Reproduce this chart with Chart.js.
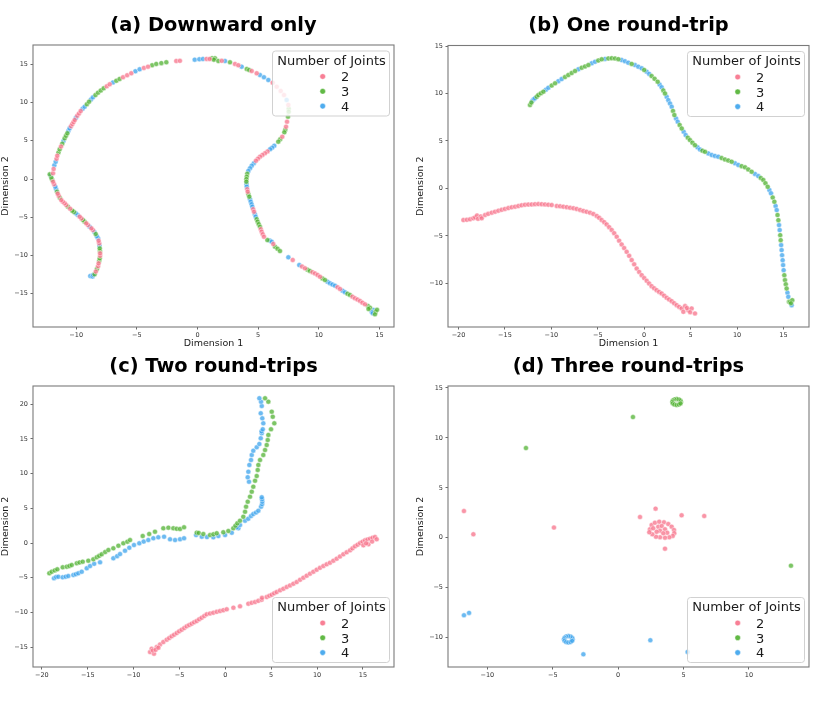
<!DOCTYPE html>
<html>
<head>
<meta charset="utf-8">
<script src="https://cdn.jsdelivr.net/npm/chart.js@4.4.1/dist/chart.umd.min.js"></script>
<style>
  html, body { margin: 0; padding: 0; background: #fff; }
  #wrap { position: relative; width: 830px; height: 714px; }
  .panel { position: absolute; width: 415px; height: 357px; }
</style>
</head>
<body>
<div id="wrap">
  <div class="panel" style="left:0;top:0"><canvas id="cA" width="415" height="357"></canvas></div>
  <div class="panel" style="left:415px;top:0"><canvas id="cB" width="415" height="357"></canvas></div>
  <div class="panel" style="left:0;top:357px"><canvas id="cC" width="415" height="357"></canvas></div>
  <div class="panel" style="left:415px;top:357px"><canvas id="cD" width="415" height="357"></canvas></div>
</div>
<script>
// ---------------- DATA ----------------
const seriesLabels = ['2', '3', '4'];
const legendTitle = 'Number of Joints';
const panelTitles = ['(a) Downward only', '(b) One round-trip', '(c) Two round-trips', '(d) Three round-trips'];

// (a) Downward only
const down2 = [[-8.38,-12.1],[-8.2,-11.4],[-8.15,-11.03],[-8.03,-10.05],[-8.03,-9.72],[-8.1,-8.41],[-8.15,-8.08],[-8.62,-6.67],[-8.75,-6.45],[-9.03,-6.02],[-9.17,-5.8],[-9.57,-5.15],[-9.71,-4.93],[-10.5,-3.88],[-10.82,-3.4],[-10.95,-3.18],[-11.1,-2.96],[-11.23,-2.75],[-11.44,-2.18],[-11.52,-1.92],[-11.82,-0.67],[-11.91,-0.35],[-11.91,0.74],[-11.86,1.31],[-11.62,2.65],[-11.56,3.05],[-11.25,4.25],[-10.43,6.91],[-10.32,7.19],[-10.22,7.45],[-10.12,7.72],[-9.91,8.28],[-9.77,8.58],[-9.63,8.89],[-7.48,12.12],[-7.24,12.38],[-6.14,13.3],[-5.8,13.56],[-5.46,13.82],[-4.42,14.52],[-4.08,14.69],[-1.75,15.43],[-1.45,15.45],[0.75,15.7],[1.0,15.69],[2.0,15.45],[3.09,15.04],[3.37,14.87],[4.47,14.12],[4.88,13.82],[6.2,12.59],[6.53,12.07],[6.86,11.51],[7.13,10.98],[7.49,9.68],[7.38,7.49],[7.3,6.84],[6.99,5.53],[5.77,3.6],[5.56,3.36],[5.35,3.14],[5.15,2.92],[4.98,2.65],[4.82,2.39],[4.1,-1.33],[4.14,-1.66],[4.59,-3.95],[4.66,-4.28],[5.22,-6.56],[5.29,-6.89],[5.38,-7.22],[5.48,-7.55],[6.25,-8.5],[7.85,-10.59],[8.62,-11.45],[8.86,-11.68],[9.48,-12.18],[9.69,-12.34],[9.9,-12.55],[10.1,-12.78],[11.55,-14.16],[11.75,-14.38],[12.78,-15.38],[12.98,-15.6],[13.19,-15.77],[13.4,-15.95],[13.6,-16.17],[13.81,-16.39]];
const down3 = [[-8.48,-12.46],[-8.29,-11.77],[-8.1,-10.7],[-8.06,-10.37],[-8.04,-9.4],[-8.06,-9.07],[-8.39,-7.19],[-9.3,-5.58],[-9.44,-5.36],[-10.18,-4.32],[-10.32,-4.14],[-10.68,-3.62],[-11.35,-2.45],[-11.58,-1.66],[-11.98,-0.1],[-12.05,0.17],[-12.18,0.61],[-11.46,3.46],[-11.36,3.88],[-11.15,4.62],[-10.95,5.32],[-10.84,5.65],[-10.73,5.98],[-9.12,9.78],[-8.94,10.11],[-8.41,10.98],[-8.2,11.29],[-7.97,11.57],[-7.73,11.86],[-6.69,12.85],[-6.42,13.08],[-3.74,14.87],[-3.4,15.04],[-2.98,15.15],[-2.57,15.26],[1.2,15.8],[1.44,15.78],[1.35,15.6],[1.72,15.43],[2.68,15.26],[4.06,14.38],[4.26,14.25],[7.52,9.2],[7.52,8.8],[7.46,8.15],[7.24,6.45],[7.16,6.1],[6.82,5.2],[6.66,4.88],[4.1,0.68],[4.06,0.3],[4.03,-0.02],[4.03,-0.35],[4.2,-1.98],[4.27,-2.31],[4.88,-5.25],[4.96,-5.58],[5.05,-5.9],[5.15,-6.24],[5.76,-7.98],[6.39,-8.85],[6.6,-9.13],[6.8,-9.42],[9.07,-11.85],[9.27,-12.03],[10.3,-13.0],[10.51,-13.21],[12.37,-15.0],[12.57,-15.17],[14.05,-16.6],[14.22,-16.83],[14.69,-17.35],[14.63,-17.69],[14.8,-17.1],[14.1,-17.0]];
const down4 = [[-8.84,-12.68],[-8.65,-12.75],[-8.6,-12.55],[-8.08,-8.74],[-8.2,-7.76],[-8.3,-7.47],[-8.5,-6.93],[-8.89,-6.23],[-9.87,-4.71],[-10.04,-4.49],[-11.65,-1.33],[-11.72,-1.0],[-12.1,0.45],[-11.8,1.8],[-11.69,2.26],[-11.05,4.97],[-10.64,6.3],[-10.54,6.63],[-10.02,8.0],[-9.47,9.17],[-9.3,9.46],[-8.78,10.4],[-8.62,10.68],[-6.97,12.62],[-5.12,14.08],[-4.77,14.34],[-0.23,15.6],[0.15,15.65],[0.45,15.69],[2.27,15.43],[3.64,14.69],[5.15,13.6],[5.48,13.3],[5.84,12.95],[7.35,10.33],[6.33,4.35],[6.15,4.1],[5.98,3.88],[4.65,2.07],[4.47,1.74],[4.33,1.4],[4.19,1.05],[4.04,-0.68],[4.06,-1.0],[4.33,-2.64],[4.39,-2.97],[4.46,-3.3],[4.52,-3.62],[4.73,-4.6],[4.8,-4.93],[5.95,-8.05],[6.12,-8.2],[7.49,-10.24],[8.39,-11.25],[10.72,-13.43],[10.92,-13.64],[11.13,-13.8],[11.34,-13.95],[11.96,-14.6],[12.16,-14.82],[14.5,-17.13],[14.36,-17.35],[14.45,-17.55]];

// (b) One round-trip
const one2 = [[-19.47,-3.33],[-19.1,-3.3],[-18.75,-3.26],[-18.4,-3.15],[-18.2,-3.05],[-18.0,-2.85],[-17.9,-3.2],[-17.6,-2.95],[-17.5,-3.15],[-17.14,-2.8],[-16.8,-2.68],[-16.42,-2.55],[-16.06,-2.45],[-15.7,-2.34],[-15.35,-2.25],[-15.0,-2.16],[-14.63,-2.07],[-14.27,-1.99],[-13.9,-1.92],[-13.55,-1.85],[-13.2,-1.78],[-12.84,-1.72],[-12.48,-1.7],[-12.12,-1.68],[-11.76,-1.66],[-11.4,-1.65],[-11.04,-1.66],[-10.68,-1.68],[-10.32,-1.71],[-9.96,-1.75],[-9.42,-1.85],[-9.06,-1.88],[-8.7,-1.92],[-8.34,-1.97],[-7.98,-2.03],[-7.62,-2.09],[-7.27,-2.16],[-6.9,-2.26],[-6.55,-2.37],[-6.2,-2.46],[-5.83,-2.55],[-5.47,-2.7],[-5.11,-2.9],[-4.85,-3.1],[-4.58,-3.33],[-4.3,-3.55],[-4.04,-3.79],[-3.77,-4.08],[-3.5,-4.38],[-3.23,-4.72],[-2.96,-5.09],[-2.7,-5.5],[-2.43,-5.9],[-2.16,-6.28],[-1.89,-6.68],[-1.62,-7.1],[-1.35,-7.55],[-1.08,-8.0],[-0.81,-8.44],[-0.54,-8.8],[-0.27,-9.14],[0.0,-9.45],[0.27,-9.74],[0.53,-10.02],[0.8,-10.3],[1.07,-10.52],[1.34,-10.72],[1.61,-10.9],[1.88,-11.07],[2.15,-11.3],[2.42,-11.53],[2.69,-11.7],[2.96,-11.88],[3.23,-12.1],[3.5,-12.3],[3.77,-12.48],[4.04,-12.65],[4.4,-12.4],[4.22,-13.0],[4.75,-12.83],[4.6,-12.6],[5.11,-12.65],[4.95,-13.05],[5.47,-13.17]];
const one3 = [[-12.3,8.79],[-12.15,9.05],[-11.58,9.67],[-11.4,9.84],[-11.13,10.02],[-10.86,10.2],[-9.96,10.84],[-9.6,11.07],[-8.53,11.74],[-8.17,11.95],[-7.81,12.16],[-7.45,12.37],[-6.73,12.72],[-6.37,12.86],[-6.01,13.0],[-4.94,13.48],[-4.58,13.6],[-3.86,13.7],[-3.5,13.72],[-3.14,13.7],[-2.78,13.62],[-1.35,13.12],[0.0,12.48],[0.8,11.84],[1.12,11.55],[1.45,11.25],[2.06,10.33],[2.24,10.01],[3.1,8.17],[3.25,7.73],[3.82,6.68],[4.04,6.32],[4.7,5.35],[4.93,5.09],[5.2,4.82],[5.47,4.56],[6.28,3.98],[6.55,3.86],[8.34,3.2],[8.7,3.06],[9.06,2.94],[9.42,2.82],[10.5,2.35],[10.86,2.22],[11.21,2.0],[11.57,1.76],[12.56,1.1],[12.83,0.89],[13.06,0.54],[13.3,0.18],[13.84,-0.96],[14.02,-1.4],[14.36,-2.8],[14.45,-3.34],[14.65,-4.92],[14.7,-5.45],[15.09,-9.14],[15.16,-9.66],[15.25,-10.1],[15.34,-10.54],[15.59,-11.95],[15.7,-11.95],[15.95,-11.77],[15.8,-12.1]];
const one4 = [[-12.04,9.25],[-11.9,9.4],[-11.76,9.5],[-10.59,10.4],[-10.32,10.61],[-9.25,11.3],[-8.89,11.52],[-7.09,12.55],[-5.65,13.18],[-5.29,13.35],[-4.22,13.65],[-2.43,13.53],[-2.07,13.4],[-1.71,13.25],[-0.99,13.0],[-0.63,12.83],[-0.27,12.65],[0.27,12.3],[0.54,12.07],[1.66,10.95],[1.88,10.65],[2.42,9.65],[2.6,9.3],[2.78,8.95],[2.96,8.6],[3.43,7.38],[3.61,7.03],[4.25,5.97],[4.47,5.62],[5.74,4.33],[6.01,4.1],[6.91,3.69],[7.27,3.52],[7.62,3.43],[7.98,3.34],[9.78,2.65],[10.14,2.47],[11.93,1.53],[12.29,1.3],[13.48,-0.17],[13.66,-0.52],[14.15,-1.84],[14.27,-2.28],[14.52,-3.86],[14.59,-4.39],[14.75,-5.97],[14.8,-6.5],[14.85,-7.03],[14.91,-7.56],[14.96,-8.08],[15.02,-8.61],[15.43,-10.98],[15.52,-11.42],[15.88,-12.3]];

// (c) Two round-trips
const two2 = [[-8.21,-15.72],[-8.03,-15.24],[-7.78,-15.96],[-7.9,-15.5],[-7.48,-15.0],[-7.6,-15.4],[-7.12,-14.62],[-7.3,-15.1],[-6.76,-14.28],[-6.39,-13.94],[-6.12,-13.7],[-5.85,-13.46],[-5.58,-13.22],[-5.3,-12.98],[-5.03,-12.74],[-4.76,-12.5],[-4.48,-12.26],[-4.21,-12.02],[-3.94,-11.82],[-3.67,-11.63],[-3.4,-11.44],[-3.12,-11.25],[-2.85,-11.0],[-2.58,-10.77],[-2.3,-10.53],[-2.03,-10.29],[-1.67,-10.17],[-1.31,-10.05],[-0.94,-9.93],[-0.58,-9.81],[-0.22,-9.69],[0.15,-9.57],[0.88,-9.33],[1.6,-9.13],[2.51,-8.75],[2.87,-8.63],[3.24,-8.51],[3.6,-8.34],[3.96,-8.17],[4.0,-7.9],[4.51,-7.79],[4.8,-7.6],[5.06,-7.45],[5.33,-7.26],[5.6,-7.07],[5.97,-6.83],[6.33,-6.59],[6.69,-6.35],[7.05,-6.11],[7.42,-5.87],[7.78,-5.63],[8.15,-5.3],[8.51,-5.0],[8.87,-4.71],[9.23,-4.42],[9.6,-4.14],[9.96,-3.85],[10.32,-3.58],[10.69,-3.32],[11.05,-3.08],[11.41,-2.84],[11.78,-2.55],[12.14,-2.26],[12.5,-1.95],[12.87,-1.63],[13.23,-1.35],[13.6,-1.06],[13.87,-0.77],[14.14,-0.48],[14.42,-0.24],[14.69,0.0],[14.96,0.19],[15.23,0.38],[15.5,0.5],[15.78,0.63],[16.05,0.75],[16.32,0.87],[16.5,0.53],[15.6,-0.19],[15.05,-0.34],[16.0,0.2],[15.35,-0.05]];
const two3 = [[-19.19,-4.37],[-18.93,-4.14],[-18.6,-3.95],[-18.32,-3.8],[-17.73,-3.51],[-17.29,-3.41],[-17.0,-3.3],[-16.75,-3.17],[-16.2,-2.93],[-15.9,-2.8],[-15.55,-2.69],[-14.94,-2.55],[-14.39,-2.36],[-14.02,-2.06],[-13.75,-1.85],[-13.48,-1.63],[-13.1,-1.3],[-12.75,-1.01],[-12.21,-0.77],[-11.66,-0.39],[-11.12,-0.05],[-10.68,0.19],[-10.39,0.43],[-9.01,1.01],[-8.3,1.3],[-7.67,1.63],[-6.76,2.12],[-6.21,2.21],[-5.67,2.12],[-5.3,2.05],[-4.94,2.02],[-4.5,2.26],[-3.12,1.49],[-2.9,1.45],[-2.4,1.3],[-1.67,1.15],[-1.3,1.25],[-0.94,1.4],[-0.22,1.54],[0.33,1.73],[0.87,2.12],[1.1,2.5],[1.31,2.84],[1.6,3.22],[1.96,3.79],[2.15,4.51],[2.26,5.24],[2.44,5.96],[2.69,6.68],[2.88,7.4],[3.05,8.12],[3.24,8.98],[3.42,9.66],[3.53,10.53],[3.6,11.25],[3.78,11.97],[4.14,12.69],[4.33,13.41],[4.51,14.13],[4.62,14.85],[4.69,15.58],[4.98,16.4],[5.34,17.26],[5.17,18.21],[5.06,18.94],[4.69,20.38],[4.33,20.87]];
const two4 = [[-18.68,-5.09],[-18.45,-4.9],[-18.21,-4.86],[-17.73,-4.95],[-17.4,-4.85],[-17.12,-4.76],[-16.57,-4.61],[-16.3,-4.5],[-16.03,-4.37],[-15.66,-4.14],[-15.11,-3.65],[-14.75,-3.32],[-14.3,-3.0],[-13.66,-2.79],[-12.21,-2.21],[-11.8,-1.9],[-11.48,-1.59],[-10.94,-1.11],[-10.47,-0.68],[-9.96,-0.29],[-9.38,-0.05],[-8.9,0.2],[-8.4,0.43],[-7.85,0.68],[-7.31,0.82],[-6.68,0.91],[-6.03,0.53],[-5.48,0.43],[-4.94,0.53],[-4.5,0.68],[-3.19,1.15],[-2.57,0.91],[-2.0,0.85],[-1.31,0.82],[-0.76,1.01],[-0.03,1.15],[0.7,1.49],[1.42,2.12],[1.24,2.26],[1.6,2.6],[2.15,3.22],[2.5,3.5],[2.8,3.89],[3.05,4.18],[3.35,4.4],[3.6,4.66],[3.89,5.24],[4.0,5.6],[4.03,5.96],[4.0,6.3],[3.97,6.59],[2.58,8.84],[2.44,9.48],[2.51,10.28],[2.62,11.25],[2.8,11.97],[2.88,12.69],[3.05,13.31],[3.42,13.8],[3.71,14.28],[3.86,15.1],[3.97,15.82],[3.95,16.1],[4.08,16.4],[4.14,17.26],[4.03,17.98],[3.86,18.7],[3.97,19.76],[3.89,20.38],[3.71,20.87]];

// (d) Three round-trips
const three2 = [[-11.79,2.68],[-11.07,0.35],[-4.91,1.02],[1.67,2.08],[2.86,2.92],[4.85,2.25],[6.58,2.18],[3.58,-1.09],[2.43,0.85],[2.56,1.28],[2.81,1.51],[3.14,1.61],[3.5,1.55],[3.83,1.38],[4.09,1.11],[4.27,0.78],[4.29,0.45],[4.17,0.18],[3.91,0.05],[3.58,0.01],[3.2,0.05],[2.89,0.11],[2.61,0.35],[2.38,0.55],[3.07,1.11],[3.33,1.18],[3.2,0.71],[3.58,0.85],[3.75,0.51],[3.45,0.45],[2.94,0.61],[2.68,0.95]];
const three3 = [[1.13,12.09],[-7.05,8.99],[13.21,-2.79],[4.8,13.6],[4.76,13.75],[4.64,13.86],[4.47,13.9],[4.3,13.86],[4.18,13.75],[4.14,13.6],[4.18,13.45],[4.3,13.34],[4.47,13.3],[4.64,13.34],[4.76,13.45]];
const three4 = [[-11.79,-7.76],[-11.4,-7.52],[2.46,-10.26],[-2.66,-11.67],[5.31,-11.43],[-3.48,-10.16],[-3.52,-10.0],[-3.64,-9.88],[-3.81,-9.84],[-3.98,-9.88],[-4.1,-10.0],[-4.14,-10.16],[-4.1,-10.32],[-3.98,-10.44],[-3.81,-10.48],[-3.64,-10.44],[-3.52,-10.32]];

// tick values
const ticksAX = [-10, -5, 0, 5, 10, 15];
const ticksAY = [-15, -10, -5, 0, 5, 10, 15];
const ticksBX = [-20, -15, -10, -5, 0, 5, 10, 15];
const ticksBY = [-10, -5, 0, 5, 10, 15];
const ticksCX = [-20, -15, -10, -5, 0, 5, 10, 15];
const ticksCY = [-15, -10, -5, 0, 5, 10, 15, 20];
const ticksDX = [-10, -5, 0, 5, 10];
const ticksDY = [-10, -5, 0, 5, 10, 15];

// ---------------- STYLE / RENDER ----------------
const COLORS = [[247,113,137],[80,177,49],[59,163,236]];
const rgba = (c, a) => `rgba(${c[0]},${c[1]},${c[2]},${a})`;
const FONT = '"DejaVu Sans", "Liberation Sans", sans-serif';
const fmt = v => (v < 0 ? '\u2212' + Math.abs(v) : String(v));

const decorPlugin = {
  id: 'decor',
  afterDatasetsDraw(chart) {
    const o = chart.options.plugins.decor;
    const {ctx, chartArea: ca} = chart;
    ctx.save();
    // frame (all four spines)
    ctx.strokeStyle = '#7a7a7a';
    ctx.lineWidth = 1.1;
    ctx.strokeRect(ca.left, ca.top, ca.right - ca.left, ca.bottom - ca.top);
    // legend
    const bw = 117, bh = 65;
    const bx = ca.right - 5 - bw;
    const by = o.legend === 'top' ? ca.top + 5.5 : ca.bottom - 5 - bh;
    ctx.beginPath();
    ctx.roundRect(bx + 0.5, by + 0.5, bw, bh, 3);
    ctx.fillStyle = 'rgba(255,255,255,0.8)';
    ctx.fill();
    ctx.strokeStyle = 'rgba(204,204,204,0.9)';
    ctx.lineWidth = 1;
    ctx.stroke();
    ctx.fillStyle = '#1a1a1a';
    ctx.font = `13px ${FONT}`;
    ctx.textAlign = 'center';
    ctx.textBaseline = 'alphabetic';
    ctx.fillText(legendTitle, bx + bw / 2 + 1, by + 14);
    chart.data.datasets.forEach((ds, i) => {
      const yy = by + 26 + i * 14.8;
      ctx.beginPath();
      ctx.arc(bx + 50.7, yy, 2.8, 0, Math.PI * 2);
      ctx.fillStyle = rgba(COLORS[i], 0.9);
      ctx.fill();
      ctx.strokeStyle = 'rgba(255,255,255,0.9)';
      ctx.lineWidth = 0.5;
      ctx.stroke();
      ctx.fillStyle = '#1a1a1a';
      ctx.textAlign = 'left';
      ctx.fillText(ds.label, bx + 69, yy + 4.7);
    });
    // panel title
    ctx.fillStyle = '#000';
    ctx.font = `bold 19.4px ${FONT}`;
    ctx.textAlign = 'center';
    ctx.textBaseline = 'middle';
    ctx.fillText(o.title, (ca.left + ca.right) / 2, ca.top - 19.5);
    ctx.restore();
  }
};

function axis(min, max, ticks, title, isX, size) {
  return {
    type: 'linear',
    min, max,
    afterBuildTicks: s => { s.ticks = ticks.map(v => ({value: v})); },
    afterFit: s => { if (isX) s.height = size; else s.width = size; },
    grid: { display: true, drawOnChartArea: false, drawTicks: true, tickLength: 2.5,
            tickColor: '#444', lineWidth: 0.8 },
    border: { display: false },
    ticks: { font: { family: FONT, size: 6.5 }, color: '#333', padding: isX ? 1.5 : 2.5,
             autoSkip: false, maxRotation: 0, callback: v => fmt(v) },
    title: title ? { display: true, text: title, color: '#1a1a1a',
             font: { family: FONT, size: 9.5 },
             padding: isX ? { top: 0, bottom: 7.3 } : { top: 0.3, bottom: 0 } }
           : { display: false }
  };
}

function makeChart(id, p) {
  const datasets = p.series.map((s, i) => ({
    label: seriesLabels[i],
    data: s.map(([x, y]) => ({x, y})),
    backgroundColor: rgba(COLORS[i], 0.75),
    borderColor: 'rgba(255,255,255,0.85)',
    borderWidth: 0.5,
    pointRadius: 2.5,
    pointHoverRadius: 2.5
  }));
  new Chart(document.getElementById(id), {
    type: 'scatter',
    data: { datasets },
    plugins: [decorPlugin],
    options: {
      responsive: false,
      animation: false,
      events: [],
      layout: { padding: { left: 0, right: 21, top: p.top, bottom: 0 } },
      plugins: {
        legend: { display: false },
        tooltip: { enabled: false },
        decor: { title: p.title, legend: p.legend }
      },
      scales: {
        x: axis(p.xr[0], p.xr[1], p.xt, p.xTitle, true, 357 - p.bottom),
        y: axis(p.yr[0], p.yr[1], p.yt, 'Dimension 2', false, 33)
      }
    }
  });
}

makeChart('cA', { title: panelTitles[0], series: [down2, down3, down4], xr: [-13.56, 16.2], yr: [-19.35, 17.52],
  xt: ticksAX, yt: ticksAY, xTitle: 'Dimension 1', top: 45, bottom: 327, legend: 'top' });
makeChart('cB', { title: panelTitles[1], series: [one2, one3, one4], xr: [-21.13, 17.75], yr: [-14.6, 15.06],
  xt: ticksBX, yt: ticksBY, xTitle: 'Dimension 1', top: 45.5, bottom: 327, legend: 'top' });
makeChart('cC', { title: panelTitles[2], series: [two2, two3, two4], xr: [-20.97, 18.39], yr: [-17.88, 22.64],
  xt: ticksCX, yt: ticksCY, xTitle: null, top: 29, bottom: 310, legend: 'bottom' });
makeChart('cD', { title: panelTitles[3], series: [three2, three3, three4], xr: [-13.01, 14.59], yr: [-12.94, 15.2],
  xt: ticksDX, yt: ticksDY, xTitle: null, top: 29, bottom: 310, legend: 'bottom' });
</script>
</body>
</html>
